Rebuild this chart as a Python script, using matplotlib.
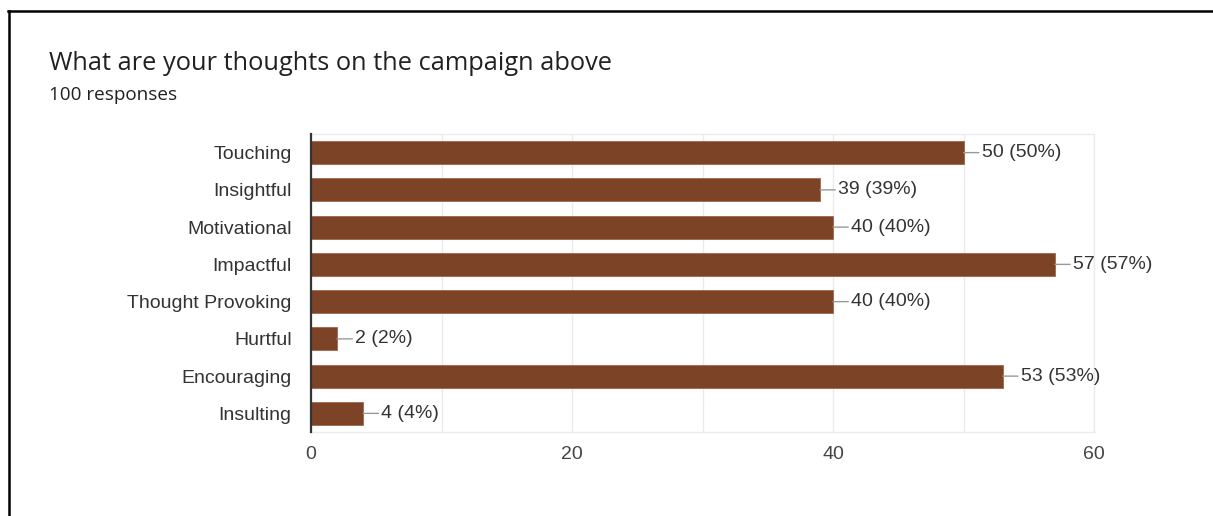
import matplotlib
matplotlib.use("Agg")
import matplotlib.pyplot as plt
from matplotlib.lines import Line2D

categories = ["Touching", "Insightful", "Motivational", "Impactful",
              "Thought Provoking", "Hurtful", "Encouraging", "Insulting"]
counts = [50, 39, 40, 57, 40, 2, 53, 4]
total_responses = 100
x_ticks = [0, 20, 40, 60]

title = "What are your thoughts on the campaign above"
subtitle = f"{total_responses} responses"

BAR = "#7c4327"
TEXT = "#333333"
GRID = "#ebebeb"
LABEL_FONT = "Liberation Sans"

W, H, DPI = 1213, 516, 100
fig = plt.figure(figsize=(W / DPI, H / DPI), dpi=DPI)
fig.patch.set_facecolor("white")

# outer frame
fig.add_artist(Line2D([8 / W, 1.0], [1 - 10.5 / H, 1 - 10.5 / H],
                      transform=fig.transFigure, color="black", lw=1.8))
fig.add_artist(Line2D([8.5 / W, 8.5 / W], [0, 1 - 10.5 / H],
                      transform=fig.transFigure, color="black", lw=1.8))

fig.text(49 / W, 1 - 64 / H, title, fontsize=18.3, family="Open Sans",
         color="#202124", va="center", ha="left")
fig.text(49 / W, 1 - 95.5 / H, subtitle, fontsize=13.6, family="Open Sans",
         color="#202124", va="center", ha="left")

ax = fig.add_axes([311 / W, 84 / H, (1094 - 311) / W, (432 - 134) / H])
y = list(range(len(categories)))
ax.barh(y, counts, height=0.62, color=BAR, edgecolor="#a0664a", linewidth=0.6, zorder=3)
ax.set_ylim(len(categories) - 0.5, -0.5)
ax.set_xlim(0, 60)
ax.set_yticks(y)
ax.set_yticklabels(categories, fontsize=14, family=LABEL_FONT, color=TEXT)
ax.set_xticks(x_ticks)
ax.set_xticklabels([str(t) for t in x_ticks], fontsize=14, family=LABEL_FONT, color="#444444")
ax.set_xticks(range(0, 61, 10), minor=True)
ax.grid(axis="x", which="both", color=GRID, lw=1, zorder=0)
ax.tick_params(axis="both", which="both", length=0)
ax.tick_params(axis="y", pad=14)
ax.tick_params(axis="x", pad=10)
for side in ["top", "right", "bottom"]:
    ax.spines[side].set_color(GRID)
    ax.spines[side].set_linewidth(1)
ax.spines["left"].set_color("#333333")
ax.spines["left"].set_linewidth(1.6)
ax.spines["left"].set_zorder(4)

for yi, c in zip(y, counts):
    pct = round(100 * c / total_responses)
    ax.annotate(f"{c} ({pct}%)", xy=(c, yi), xytext=(13, 0),
                textcoords="offset points", ha="left", va="center",
                fontsize=14, family=LABEL_FONT, color=TEXT,
                arrowprops=dict(arrowstyle="-", color="#999999", lw=1,
                                shrinkA=0, shrinkB=0))

fig.savefig("out.png", dpi=DPI)
